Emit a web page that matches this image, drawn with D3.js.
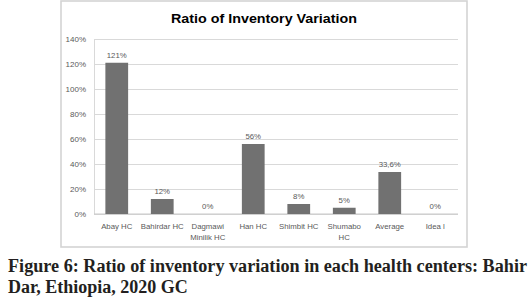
<!DOCTYPE html>
<html>
<head>
<meta charset="utf-8">
<script src="https://cdn.jsdelivr.net/npm/d3@7"></script>
<style>
  html, body { margin: 0; padding: 0; background: #fff; }
</style>
</head>
<body>
<div id="chart"></div>
<script>
// chart data
var categories = ["Abay HC", "Bahirdar HC", "Dagmawi Minilik HC", "Han HC", "Shimbit HC", "Shumabo HC", "Average", "Ideal"];
var labelLines = [["Abay HC"], ["Bahirdar HC"], ["Dagmawi", "Minilik HC"], ["Han HC"], ["Shimbit HC"], ["Shumabo", "HC"], ["Average"], ["Idea l"]];
var values = [121, 12, 0, 56, 8, 5, 33.6, 0];
var valueLabels = ["121%", "12%", "0%", "56%", "8%", "5%", "33,6%", "0%"];
var yTicks = [0, 20, 40, 60, 80, 100, 120, 140];

var svg = d3.select("#chart").append("svg").attr("width", 531).attr("height", 301);

// outer chart frame
svg.append("rect")
    .attr("x", 61).attr("y", 1).attr("width", 406).attr("height", 246)
    .attr("fill", "#fff").attr("stroke", "#d4d4d4").attr("stroke-width", 1.6);

var x = d3.scaleBand().domain(categories).range([94, 458]).paddingInner(0.5).paddingOuter(0.25);
var y = d3.scaleLinear().domain([0, 140]).range([214, 39]);

// gridlines + y labels
var yAxis = d3.axisLeft(y).tickValues(yTicks).tickSize(-(458 - 94)).tickFormat(function(d){ return d + "%"; });
var gy = svg.append("g").attr("transform", "translate(94,0)").call(yAxis);
gy.select(".domain").attr("stroke", "#d9d9d9");
gy.selectAll(".tick line").attr("stroke", "#d9d9d9");
gy.selectAll(".tick text").attr("x", -8).attr("dy", "0.32em")
    .attr("fill", "#595959").style("font-family", "Liberation Sans, Arial, sans-serif").style("font-size", "8px");

// baseline
svg.append("line").attr("x1", 94).attr("x2", 458).attr("y1", y(0)).attr("y2", y(0)).attr("stroke", "#c8c8c8");

// bars
svg.selectAll("rect.bar").data(values).enter().append("rect")
    .attr("class", "bar")
    .attr("x", function(d, i){ return x(categories[i]); })
    .attr("y", function(d){ return y(d); })
    .attr("width", x.bandwidth())
    .attr("height", function(d){ return y(0) - y(d); })
    .attr("fill", "#717171");

// value labels above bars
svg.selectAll("text.val").data(values).enter().append("text")
    .attr("class", "val")
    .attr("x", function(d, i){ return x(categories[i]) + x.bandwidth() / 2; })
    .attr("y", function(d){ return y(d) - 5; })
    .attr("text-anchor", "middle")
    .attr("fill", "#595959")
    .style("font-family", "Liberation Sans, Arial, sans-serif").style("font-size", "7.8px")
    .text(function(d, i){ return valueLabels[i]; });

// category labels, some wrap onto two lines
var cat = svg.selectAll("text.cat").data(categories).enter().append("text")
    .attr("class", "cat")
    .attr("text-anchor", "middle")
    .attr("fill", "#595959")
    .style("font-family", "Liberation Sans, Arial, sans-serif").style("font-size", "7.8px");
cat.each(function(c, i){
    var t = d3.select(this);
    labelLines[i].forEach(function(line, k){
        t.append("tspan")
            .attr("x", x(c) + x.bandwidth() / 2)
            .attr("y", 229 + k * 10.5)
            .text(line);
    });
});

// chart title
svg.append("text")
    .attr("x", 264).attr("y", 23)
    .attr("text-anchor", "middle")
    .attr("textLength", 186).attr("lengthAdjust", "spacingAndGlyphs")
    .attr("fill", "#000")
    .style("font-family", "Liberation Sans, Arial, sans-serif").style("font-weight", "bold").style("font-size", "13.5px")
    .text("Ratio of Inventory Variation");

// figure caption below the frame
svg.append("text")
    .attr("x", 8).attr("y", 272)
    .attr("textLength", 519).attr("lengthAdjust", "spacingAndGlyphs")
    .attr("fill", "#231f20")
    .style("font-family", "Liberation Serif, Times New Roman, serif").style("font-weight", "bold").style("font-size", "18px")
    .text("Figure 6: Ratio of inventory variation in each health centers: Bahir");
svg.append("text")
    .attr("x", 8).attr("y", 293)
    .attr("fill", "#231f20")
    .style("font-family", "Liberation Serif, Times New Roman, serif").style("font-weight", "bold").style("font-size", "18px")
    .text("Dar, Ethiopia, 2020 GC");
</script>
</body>
</html>
